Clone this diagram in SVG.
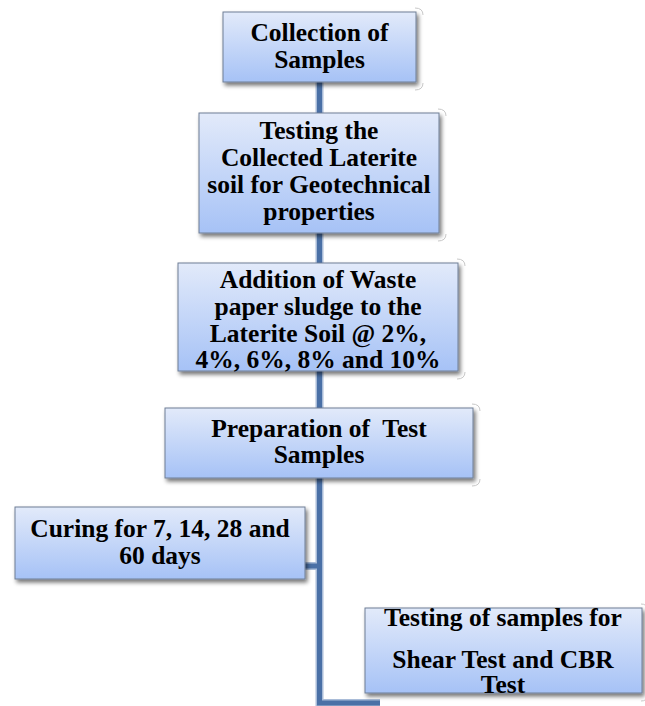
<svg xmlns="http://www.w3.org/2000/svg" width="645" height="706" viewBox="0 0 645 706">
<defs>
<linearGradient id="g" x1="0" y1="0" x2="0" y2="1">
<stop offset="0" stop-color="#e2eafa"/>
<stop offset="1" stop-color="#a6c2f6"/>
</linearGradient>
<filter id="sh" x="-10%" y="-10%" width="125%" height="135%">
<feGaussianBlur in="SourceAlpha" stdDeviation="2"/>
<feOffset dx="2" dy="3" result="b"/>
<feComponentTransfer><feFuncA type="linear" slope="0.55"/></feComponentTransfer>
<feMerge><feMergeNode/><feMergeNode in="SourceGraphic"/></feMerge>
</filter>
</defs>
<style>
.box{fill:url(#g);stroke:#6f7f95;stroke-width:1;filter:url(#sh)}
.t{font-family:"Liberation Serif","Times New Roman",serif;font-weight:bold;font-size:25.5px;fill:#000;text-anchor:middle;white-space:pre}
.c{fill:none;stroke:#a9bcd8;stroke-width:8}
.ci{fill:none;stroke:#4a70a6;stroke-width:5}
.corner{fill:none;stroke:#c8c8c8;stroke-width:1}
</style>
<g id="connectors">
<path class="c" d="M319.5 82 V703 H380 M305 566 H319.5"/>
<path class="ci" d="M319.5 82 V703 H380 M305 566 H319.5"/>
</g>
<g id="n1">
<rect class="box" x="223" y="12" width="193" height="70"/>
<path class="corner" d="M415 8 q8 0 8 7 M415 90 q8 0 8 -7"/>
<text class="t" x="319.5" y="41">Collection of</text>
<text class="t" x="319.5" y="68">Samples</text>
</g>
<g id="n2">
<rect class="box" x="199" y="113" width="240" height="120"/>
<path class="corner" d="M438 109 q8 0 8 7 M438 241 q8 0 8 -7"/>
<text class="t" x="319" y="139">Testing the</text>
<text class="t" x="319" y="166">Collected Laterite</text>
<text class="t" x="319" y="193">soil for Geotechnical</text>
<text class="t" x="319" y="220">properties</text>
</g>
<g id="n3">
<rect class="box" x="178" y="263" width="280" height="108"/>
<path class="corner" d="M457 259 q8 0 8 7 M457 379 q8 0 8 -7"/>
<text class="t" x="318" y="288">Addition of Waste</text>
<text class="t" x="318" y="315">paper sludge to the</text>
<text class="t" x="318" y="342">Laterite Soil @ 2%,</text>
<text class="t" x="318" y="368">4%, 6%, 8% and 10%</text>
</g>
<g id="n4">
<rect class="box" x="165" y="408" width="308" height="70"/>
<path class="corner" d="M472 404 q8 0 8 7 M472 486 q8 0 8 -7"/>
<text class="t" x="319" y="437">Preparation of  Test</text>
<text class="t" x="319" y="463">Samples</text>
</g>
<g id="n5">
<rect class="box" x="15" y="507" width="290" height="72"/>
<text class="t" x="160" y="537">Curing for 7, 14, 28 and</text>
<text class="t" x="160" y="564">60 days</text>
</g>
<g id="n6">
<rect class="box" x="365" y="608" width="277" height="85"/>
<path class="corner" d="M641 604 q6 0 6 5 M641 701 q6 0 6 -5"/>
<text class="t" x="503" y="626">Testing of samples for</text>
<text class="t" x="503" y="668">Shear Test and CBR</text>
<text class="t" x="503" y="693">Test</text>
</g>
</svg>
